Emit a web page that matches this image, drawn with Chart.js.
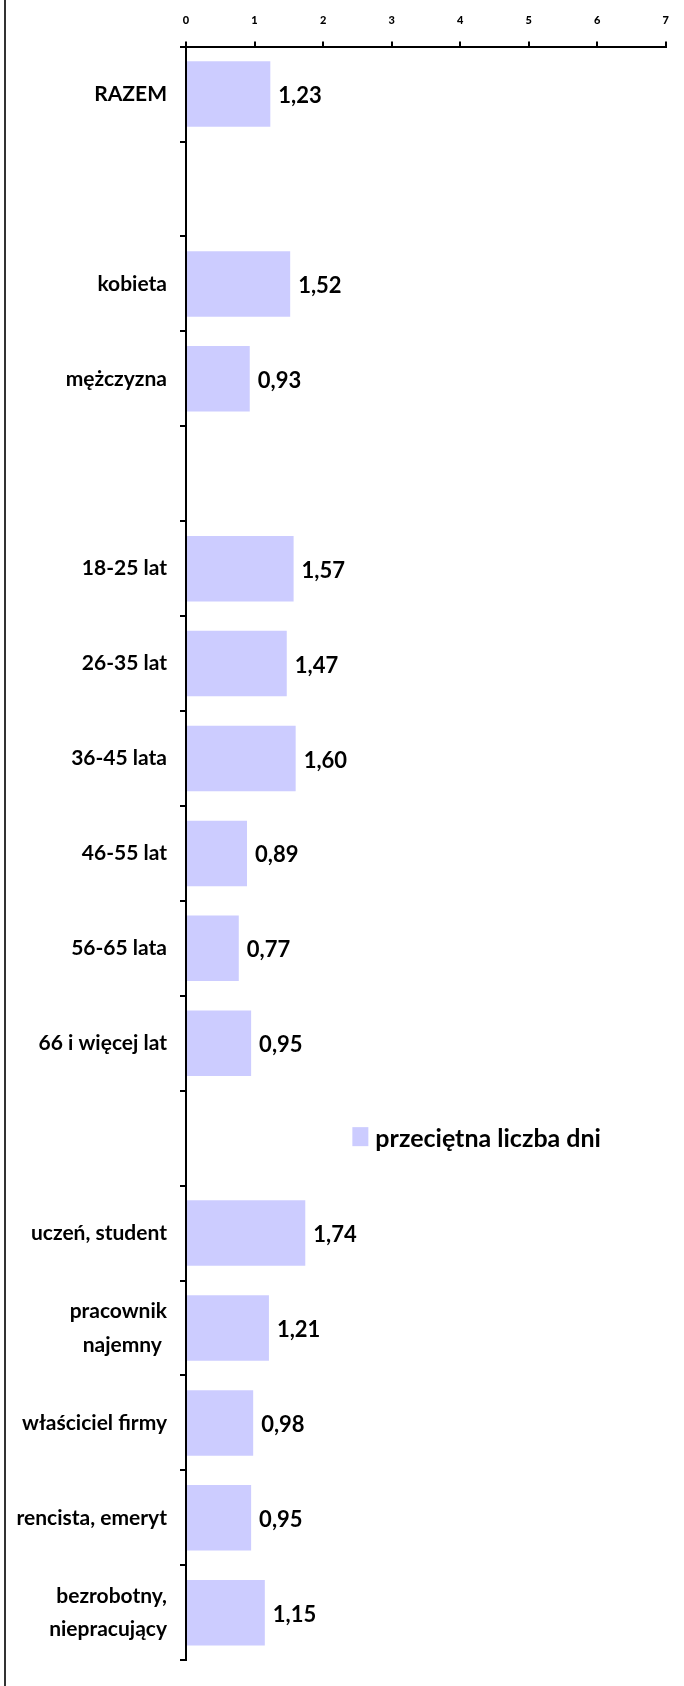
<!DOCTYPE html>
<html lang="pl">
<head>
<meta charset="UTF-8">
<title>Przeciętna liczba dni</title>
<script src="https://cdn.jsdelivr.net/npm/chart.js"></script>
<style>
    body { margin: 0; padding: 0; background: #fff; overflow: hidden; }
    /* wykres jest odrobinę wyższy niż okno - dół jest ucięty jak w oryginale */
    .wrap { width: 684px; height: 1690px; position: relative; }
</style>
</head>
<body>
<div class="wrap"><canvas id="wykres"></canvas></div>
<script>
const kategorie = ['RAZEM', '', 'kobieta', 'mężczyzna', '', '18-25 lat', '26-35 lat', '36-45 lata',
    '46-55 lat', '56-65 lata', '66 i więcej lat', '', 'uczeń, student', ['pracownik', 'najemny '],
    'właściciel firmy', 'rencista, emeryt', ['bezrobotny,', 'niepracujący']];
const dni = [1.23, null, 1.52, 0.93, null, 1.57, 1.47, 1.60, 0.89, 0.77, 0.95, null, 1.74, 1.21, 0.98, 0.95, 1.15];
const nazwaSerii = 'przeciętna liczba dni';
const osMin = 0;
const osMax = 7;

const FONT = 'Lato, "DejaVu Sans", sans-serif';
const KOLOR = '#ccccff';

// ramka wykresu po lewej
const ramka = {
    id: 'ramka',
    beforeDraw(chart) {
        const ctx = chart.ctx;
        ctx.save();
        ctx.strokeStyle = '#333';
        ctx.lineWidth = 2;
        ctx.beginPath();
        ctx.moveTo(5, 0);
        ctx.lineTo(5, chart.height);
        ctx.stroke();
        ctx.restore();
    }
};

// wartości przy słupkach
const etykiety = {
    id: 'etykiety',
    afterDatasetsDraw(chart) {
        const ctx = chart.ctx;
        const meta = chart.getDatasetMeta(0);
        ctx.save();
        ctx.font = 'bold 22px ' + FONT;
        ctx.fillStyle = '#000';
        ctx.textAlign = 'left';
        ctx.textBaseline = 'middle';
        meta.data.forEach((el, i) => {
            const v = dni[i];
            if (v == null) return;
            ctx.fillText(v.toFixed(2).replace('.', ','), el.x + 8, el.y + 2);
        });
        ctx.restore();
    }
};

// legenda w pustym wierszu
const legenda = {
    id: 'legenda',
    afterDraw(chart) {
        const ctx = chart.ctx;
        const y = chart.scales.y.getPixelForValue(11);
        const x = chart.scales.x.getPixelForValue(2.5) - 5;
        ctx.save();
        ctx.fillStyle = KOLOR;
        ctx.fillRect(x, y - 11, 16, 19);
        ctx.font = 'bold 25px ' + FONT;
        ctx.fillStyle = '#000';
        ctx.textBaseline = 'middle';
        ctx.fillText(nazwaSerii, x + 23, y + 1);
        ctx.restore();
    }
};

new Chart(document.getElementById('wykres'), {
    type: 'bar',
    data: {
        labels: kategorie,
        datasets: [{
            label: nazwaSerii,
            data: dni,
            backgroundColor: KOLOR,
            borderWidth: 0,
            categoryPercentage: 1,
            barPercentage: 0.69
        }]
    },
    options: {
        indexAxis: 'y',
        responsive: true,
        maintainAspectRatio: false,
        animation: false,
        layout: { padding: { left: 0, right: 5, top: 0, bottom: 0 } },
        plugins: {
            legend: { display: false },
            tooltip: { enabled: false }
        },
        scales: {
            x: {
                position: 'top',
                min: osMin,
                max: osMax,
                afterFit(scale) { scale.height = 46; },
                ticks: {
                    stepSize: 1,
                    color: '#000',
                    padding: 15,
                    font: { family: FONT, size: 11, weight: 900 }
                },
                grid: {
                    drawOnChartArea: false,
                    color: '#000',
                    lineWidth: 2,
                    tickLength: 5
                },
                border: { color: '#000', width: 2 }
            },
            y: {
                afterFit(scale) { scale.width = 186; },
                ticks: {
                    color: '#000',
                    padding: 13,
                    font: { family: FONT, size: 21, weight: 'bold', lineHeight: 1.6 }
                },
                grid: {
                    drawOnChartArea: false,
                    offset: true,
                    color: '#000',
                    lineWidth: 2,
                    tickLength: 6
                },
                border: { color: '#000', width: 2 }
            }
        }
    },
    plugins: [ramka, etykiety, legenda]
});
</script>
</body>
</html>
